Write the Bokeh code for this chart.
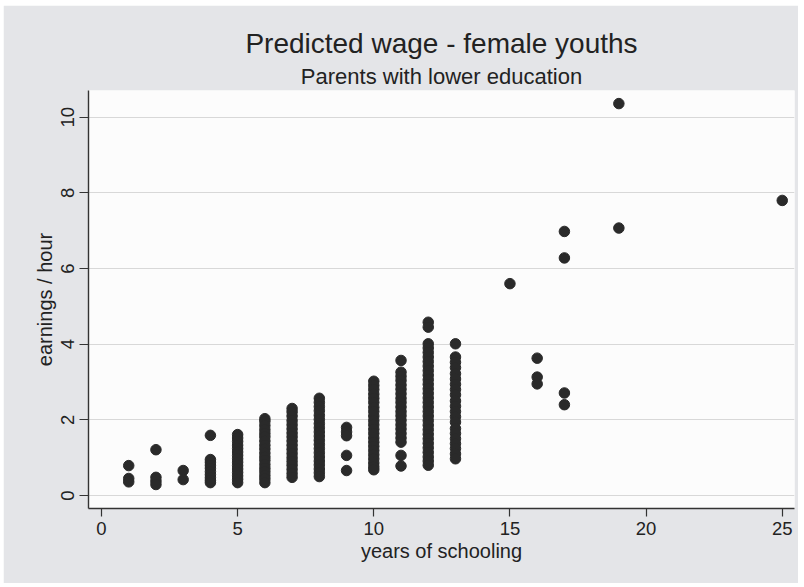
from bokeh.plotting import figure
from bokeh.models import Range1d, FixedTicker, Title, Spacer
from bokeh.layouts import column, row
from bokeh.embed import file_html
from bokeh.resources import INLINE

# Predicted hourly earnings of female youths, by completed years of schooling
schooling_levels = [1, 2, 3, 4, 5, 6, 7, 8, 9, 10, 11, 12, 13, 15, 16, 17, 19, 25]

wage_yrs_01 = [0.79, 0.45, 0.36]
wage_yrs_02 = [1.21, 0.48, 0.38, 0.29]
wage_yrs_03 = [0.66, 0.42]
wage_yrs_04 = [1.59, 0.95, 0.88, 0.80, 0.72, 0.63, 0.55, 0.47, 0.40, 0.34]
wage_yrs_05 = [1.61, 1.52, 1.43, 1.33, 1.24, 1.15, 1.06, 0.97, 0.88, 0.79,
               0.70, 0.61, 0.52, 0.43, 0.34]
wage_yrs_06 = [2.03, 1.96, 1.85, 1.74, 1.64, 1.55, 1.44, 1.33, 1.23, 1.12,
               1.02, 0.93, 0.82, 0.72, 0.63, 0.53, 0.44, 0.34]
wage_yrs_07 = [2.30, 2.21, 2.10, 1.98, 1.87, 1.76, 1.65, 1.55, 1.44, 1.33,
               1.22, 1.11, 1.00, 0.90, 0.80, 0.69, 0.58, 0.48]
wage_yrs_08 = [2.57, 2.46, 2.35, 2.24, 2.12, 2.01, 1.90, 1.79, 1.68, 1.57,
               1.46, 1.35, 1.24, 1.13, 1.02, 0.91, 0.81, 0.70, 0.60, 0.50]
wage_yrs_09 = [1.80, 1.68, 1.58, 1.06, 0.66]
wage_yrs_10 = [3.02, 2.91, 2.80, 2.68, 2.57, 2.46, 2.33, 2.22, 2.10, 1.98,
               1.87, 1.75, 1.64, 1.52, 1.41, 1.30, 1.19, 1.08, 0.97, 0.86,
               0.76, 0.68]
wage_yrs_11 = [3.57, 3.26, 3.15, 3.04, 2.92, 2.81, 2.69, 2.57, 2.46, 2.34,
               2.22, 2.11, 1.99, 1.87, 1.76, 1.64, 1.52, 1.41, 1.06, 0.78]
wage_yrs_12 = [4.58, 4.45, 4.01, 3.90, 3.78, 3.66, 3.54, 3.42, 3.30, 3.18,
               3.06, 2.94, 2.82, 2.70, 2.58, 2.46, 2.34, 2.22, 2.10, 1.98,
               1.86, 1.74, 1.62, 1.50, 1.38, 1.26, 1.14, 1.02, 0.91, 0.80]
wage_yrs_13 = [4.01, 3.66, 3.52, 3.38, 3.22, 3.08, 2.94, 2.80, 2.66, 2.50,
               2.36, 2.22, 2.08, 1.94, 1.77, 1.64, 1.50, 1.37, 1.24, 1.10, 0.97]
wage_yrs_15 = [5.60]
wage_yrs_16 = [3.63, 3.13, 2.95]
wage_yrs_17 = [6.98, 6.28, 2.71, 2.40]
wage_yrs_19 = [10.36, 7.07]
wage_yrs_25 = [7.80]

wages_by_level = [wage_yrs_01, wage_yrs_02, wage_yrs_03, wage_yrs_04, wage_yrs_05,
                  wage_yrs_06, wage_yrs_07, wage_yrs_08, wage_yrs_09, wage_yrs_10,
                  wage_yrs_11, wage_yrs_12, wage_yrs_13, wage_yrs_15, wage_yrs_16,
                  wage_yrs_17, wage_yrs_19, wage_yrs_25]

x_ticks = [0, 5, 10, 15, 20, 25]
y_ticks = [0, 2, 4, 6, 8, 10]

xs, ys = [], []
for level, wages in zip(schooling_levels, wages_by_level):
    xs.extend([level] * len(wages))
    ys.extend(wages)

FONT = "Liberation Sans"
INK = "#222222"
PAGE = "#e4e5e8"

p = figure(width=795, height=578,
           x_range=Range1d(-0.477, 25.45), y_range=Range1d(-0.344, 10.706),
           min_border_left=85, min_border_right=4,
           min_border_top=85, min_border_bottom=75,
           output_backend="svg", toolbar_location=None, tools="")

p.background_fill_color = "#fcfcfc"
p.border_fill_color = PAGE
p.outline_line_color = None

p.add_layout(Title(text="Parents with lower education", align="center",
                   text_font=FONT, text_font_size="22px", text_font_style="normal",
                   text_color=INK, standoff=4), "above")
p.add_layout(Title(text="Predicted wage - female youths", align="center",
                   text_font=FONT, text_font_size="28px", text_font_style="normal",
                   text_color=INK, standoff=2), "above")

p.scatter(xs, ys, size=10.5, marker="circle", fill_color="#2a2a2a",
          line_color="#2a2a2a")

p.xgrid.visible = False
p.ygrid.grid_line_color = "#d8d8d8"
p.ygrid.grid_line_width = 1

for ax in (p.xaxis[0], p.yaxis[0]):
    ax.axis_line_color = "#333333"
    ax.axis_line_width = 1.4
    ax.major_tick_line_color = "#333333"
    ax.major_tick_line_width = 1.2
    ax.major_tick_in = 0
    ax.minor_tick_out = 0
    ax.minor_tick_in = 0
    ax.major_label_text_font = FONT
    ax.major_label_text_font_size = "18.5px"
    ax.major_label_text_color = INK
    ax.axis_label_text_font = FONT
    ax.axis_label_text_font_size = "20px"
    ax.axis_label_text_font_style = "normal"
    ax.axis_label_text_color = INK

p.xaxis.ticker = FixedTicker(ticks=x_ticks)
p.xaxis.axis_label = "years of schooling"
p.xaxis.major_tick_out = 8
p.xaxis.major_label_standoff = 5
p.xaxis.axis_label_standoff = 2

p.yaxis.ticker = FixedTicker(ticks=y_ticks)
p.yaxis.axis_label = "earnings / hour"
p.yaxis.major_label_orientation = "vertical"
p.yaxis.major_tick_out = 9
p.yaxis.major_label_standoff = 5
p.yaxis.axis_label_standoff = 3

layout = column(Spacer(height=5),
                row(Spacer(width=3), p, spacing=0),
                spacing=0)

open("out.html", "w").write(file_html(layout, INLINE))
